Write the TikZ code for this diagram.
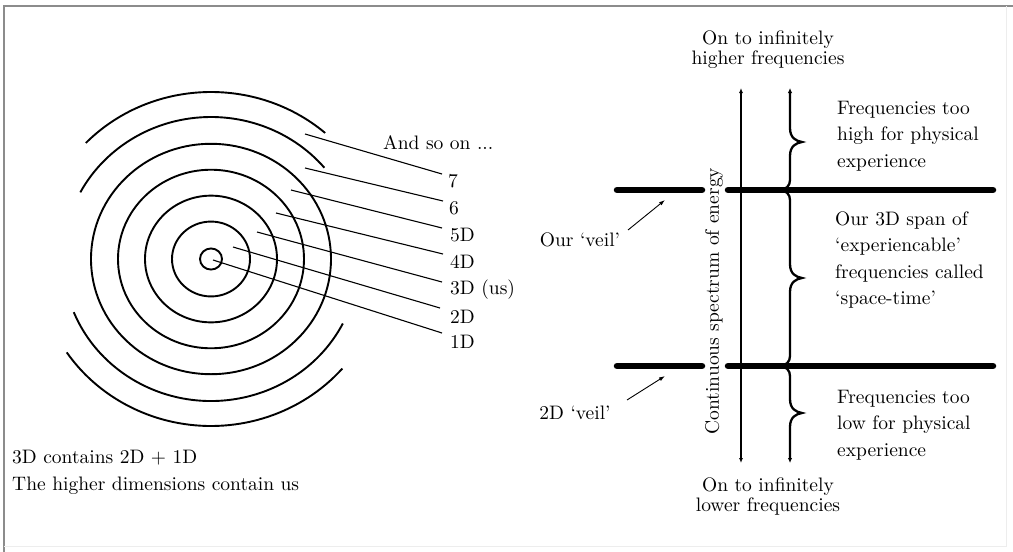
\documentclass[tikz,border=0pt]{standalone}
\usepackage{fontspec}
\setmainfont{lmroman10-regular.otf}[Ligatures=TeX]
\usetikzlibrary{arrows.meta}
\begin{document}
\begin{tikzpicture}[x=1pt,y=-1pt,
  txt/.style={font=\fontsize{19.5}{26.5}\selectfont, inner sep=0pt},
  tight/.style={font=\fontsize{19.5}{20}\selectfont, inner sep=0pt, align=center},
  ring/.style={line width=1.9pt},
  leader/.style={line width=1.1pt},
  veil/.style={line width=6.5pt, line cap=round},
  spine/.style={line width=1.3pt, {Latex[length=5pt,width=4pt]}-{Latex[length=5pt,width=4pt]}},
  bracel/.style={line width=2.3pt},
  pointer/.style={line width=0.9pt, -{Latex[length=6pt,width=4pt]}}
]
\useasboundingbox (0,0) rectangle (1013,552);
% frame
\draw[black!45, line width=1.5pt] (4,552) -- (4,6) -- (1013,6);
\draw[black!7, line width=1pt] (1006,6) -- (1006,546) -- (4,546);

% concentric rings
\coordinate (C) at (211,259);
\foreach \r in {11,39,66,93,120}
  \draw[ring] (C) ellipse[x radius=\r, y radius=0.96*\r];
\draw[ring] (C) ++(-40:148 and 142) arc[start angle=-40, end angle=-152, x radius=148, y radius=142];
\draw[ring] (C) ++(-49:174 and 167) arc[start angle=-49, end angle=-136, x radius=174, y radius=167];
\draw[ring] (C) ++(-333:148 and 142) arc[start angle=-333, end angle=-202, x radius=148, y radius=142];
\draw[ring] (C) ++(-319:174 and 167) arc[start angle=-319, end angle=-214, x radius=174, y radius=167];

% labels
\node[txt, anchor=west] (more) at (383,143) {And so on ...};
\node[txt, anchor=west] (l7) at (448,181) {7};
\node[txt, anchor=west] (l6) at (449,208) {6};
\node[txt, anchor=west] (l5) at (450,235) {5D};
\node[txt, anchor=west] (l4) at (450,262) {4D};
\node[txt, anchor=west] (l3) at (450,290) {3D (us)};
\node[txt, anchor=west] (l2) at (450,317) {2D};
\node[txt, anchor=west] (l1) at (450,342) {1D};

% leader lines
\coordinate (s7) at (305,134); \coordinate (e7) at (442,174);
\coordinate (s6) at (305,168); \coordinate (e6) at (443,201);
\coordinate (s5) at (291,190); \coordinate (e5) at (442,228);
\coordinate (s4) at (276,213); \coordinate (e4) at (443,254);
\coordinate (s3) at (257,232); \coordinate (e3) at (442,282);
\coordinate (s2) at (233,247); \coordinate (e2) at (440,308);
\coordinate (s1) at (213,260); \coordinate (e1) at (442,333);
\foreach \i in {1,...,7} \draw[leader] (s\i) -- (e\i);

% bottom left text
\node[txt, anchor=north west, align=left] (note) at (12,450) {3D contains 2D + 1D\\The higher dimensions contain us};

% right diagram
\node[tight] (top) at (768,50) {On to infinitely\\higher frequencies};
\node[tight] (bot) at (768,497) {On to infinitely\\lower frequencies};
\coordinate (tT) at (741,88); \coordinate (tB) at (741,463);
\draw[spine] (tB) -- (tT);
\node[txt, rotate=90] (spec) at (714,301) {Continuous spectrum of energy};

% veils
\coordinate (v1a) at (617,190); \coordinate (v1b) at (702,190);
\coordinate (v1c) at (728,190); \coordinate (v1d) at (993,190);
\coordinate (v2a) at (617,366); \coordinate (v2b) at (702,366);
\coordinate (v2c) at (728,366); \coordinate (v2d) at (993,366);
\draw[veil] (v1a) -- (v1b);
\draw[veil] (v1c) -- (v1d);
\draw[veil] (v2a) -- (v2b);
\draw[veil] (v2c) -- (v2d);

% braces
\coordinate (bT) at (790,88); \coordinate (bB) at (790,463);
\draw[bracel, {Latex[length=5pt,width=4.5pt]}-] (bT) -- (790,128)
  .. controls (790,138) and (796,141) .. (802,142)
  .. controls (796,143) and (790,146) .. (790,156)
  -- (790,180) .. controls (790,186) and (786,189) .. (781,190);
\draw[bracel] (781,190) .. controls (786,191) and (790,194) .. (790,200)
  -- (790,264)
  .. controls (790,274) and (796,277) .. (802,278)
  .. controls (796,279) and (790,282) .. (790,292)
  -- (790,356) .. controls (790,362) and (786,365) .. (781,366);
\draw[bracel, -{Latex[length=5pt,width=4.5pt]}] (781,366) .. controls (786,367) and (790,370) .. (790,376)
  -- (790,399)
  .. controls (790,409) and (796,412) .. (802,413)
  .. controls (796,414) and (790,417) .. (790,427)
  -- (bB);

% veil labels
\node[txt] (ov) at (580,240) {Our ‘veil’};
\node[txt] (tv) at (575,413) {2D ‘veil’};
\coordinate (ovp) at (665,200);
\coordinate (tvp) at (665,376);
\draw[pointer] (628,230) -- (ovp);
\draw[pointer] (627,400) -- (tvp);

% right texts
\node[txt, anchor=west, align=left] (hi) at (837,136) {Frequencies too\\high for physical\\experience};
\node[txt, anchor=west, align=left] (mid) at (835,260) {Our 3D span of\\‘experiencable’\\frequencies called\\‘space-time’};
\node[txt, anchor=west, align=left] (lo) at (837,425) {Frequencies too\\low for physical\\experience};
\end{tikzpicture}
\end{document}
